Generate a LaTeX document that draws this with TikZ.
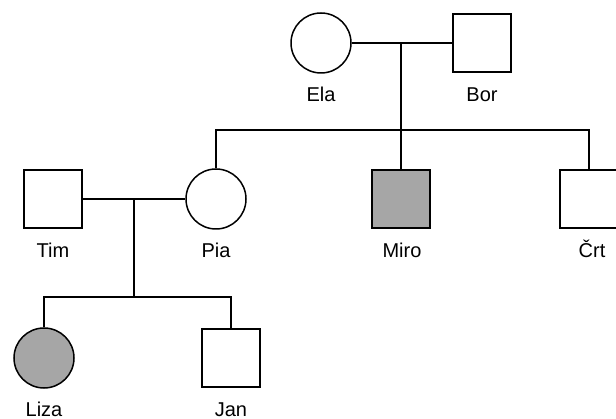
\documentclass[tikz,border=0pt]{standalone}
\usepackage{fontspec}
\setmainfont{Liberation Sans}
\usepackage{tikz}
\definecolor{affgray}{HTML}{A6A6A6}
\tikzstyle{male} = [rectangle, minimum size=58pt, inner sep=0pt, draw=black, line width=1.5pt, fill=white]
\tikzstyle{female} = [circle, minimum size=60pt, inner sep=0pt, draw=black, line width=1.5pt, fill=white]
\tikzstyle{affected} = [fill=affgray]
\tikzstyle{personname} = [anchor=base, inner sep=0pt, font=\fontsize{20}{24}\selectfont]
\tikzstyle{relation} = [line width=1.5pt]

\begin{document}
\begin{tikzpicture}[x=1pt,y=-1pt]
\useasboundingbox (0,0) rectangle (616,419);
% first generation
\node (ela) [female] at (321,43) {};
\node (bor) [male] at (482,43) {};
% second generation
\node (tim) [male] at (53,199) {};
\node (pia) [female] at (216,199) {};
\node (miro) [male, affected] at (401,199) {};
\node (crt) [male] at (589,199) {};
% third generation
\node (liza) [female, affected] at (44,358) {};
\node (jan) [male] at (231,358) {};

% names
\node (elaname) [personname] at (321,102) {Ela};
\node (borname) [personname] at (482,102) {Bor};
\node (timname) [personname] at (53,258) {Tim};
\node (pianame) [personname] at (216,258) {Pia};
\node (mironame) [personname] at (402,258) {Miro};
\node (crtname) [personname] at (592,258) {Črt};
\node (lizaname) [personname] at (44,417) {Liza};
\node (janname) [personname] at (231,417) {Jan};

% marriages and children
\coordinate (eb) at (401,43);
\coordinate (ebkids) at (401,130);
\coordinate (tp) at (134,199);
\coordinate (tpkids) at (134,297);

\draw [relation] (ela) -- (bor);
\draw [relation] (eb) -- (ebkids);
\draw [relation] (pia.north) |- (ebkids) -| (crt.north);
\draw [relation] (ebkids) -- (miro);

\draw [relation] (tim) -- (pia);
\draw [relation] (tp) -- (tpkids);
\draw [relation] (liza.north) |- (tpkids) -| (jan.north);
\end{tikzpicture}
\end{document}
